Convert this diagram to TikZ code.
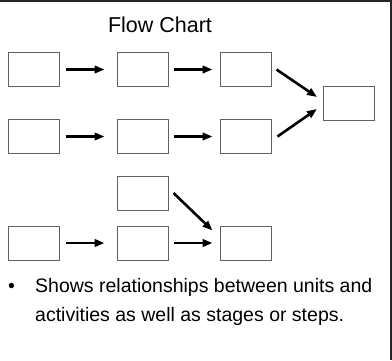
\documentclass[tikz,border=0pt]{standalone}
\usepackage{fontspec}
\setmainfont{Liberation Sans}
\usetikzlibrary{arrows.meta}
\begin{document}
\begin{tikzpicture}[x=1pt,y=-1pt,
  stepbox/.style={draw=black!62,line width=1pt,minimum width=51pt,minimum height=34pt,inner sep=0pt,fill=white},
  arr/.style={line width=2.6pt,-{Triangle[length=10pt,width=7.5pt]}},
  frameline/.style={line width=2pt,black!85}]
\useasboundingbox (0,0) rectangle (392,360);
\fill[white] (0,0) rectangle (392,360);
% slide frame (top and right edges)
\draw[frameline] (0,1) -- (391,1);
\draw[frameline] (391,0) -- (391,360);

% title
\node[anchor=base,font=\fontsize{21.5}{24}\selectfont,inner sep=0pt] (title) at (160,32) {Flow Chart};

% boxes
\node[stepbox] (a1) at (33.5,69.5) {};
\node[stepbox] (a2) at (142.5,69.5) {};
\node[stepbox] (a3) at (245.5,69.5) {};
\node[stepbox] (m)  at (349,103.5) {};
\node[stepbox] (b1) at (33.5,136.5) {};
\node[stepbox] (b2) at (142.5,136.5) {};
\node[stepbox] (b3) at (245.5,136.5) {};
\node[stepbox] (c0) at (142.5,193) {};
\node[stepbox] (c1) at (33.5,243) {};
\node[stepbox] (c2) at (142.5,243) {};
\node[stepbox] (c3) at (245.5,243) {};

% connectors
\draw[arr,shorten <=6pt,shorten >=12pt] (a1.east) -- (a2.west);
\draw[arr,shorten <=5pt,shorten >=7pt] (a2.east) -- (a3.west);
\draw[arr,shorten <=6pt,shorten >=12pt] (b1.east) -- (b2.west);
\draw[arr,shorten <=5pt,shorten >=7pt] (b2.east) -- (b3.west);
\draw[arr,shorten <=6pt,shorten >=12pt] (c1.east) -- (c2.west);
\draw[arr,shorten <=5pt,shorten >=7pt] (c2.east) -- (c3.west);
\draw[arr] ([xshift=5pt]a3.east) -- ([xshift=-6pt,yshift=6.5pt]m.west);
\draw[arr] ([xshift=6pt]b3.east) -- ([xshift=-6pt,yshift=-5.5pt]m.west);
\draw[arr] ([xshift=5pt]c0.east) -- ([xshift=-7pt,yshift=-5pt]c3.north west);

% bullet text
\node[anchor=base west,inner sep=0pt,font=\fontsize{19.5}{23}\selectfont] (bul) at (8,292) {\textbullet};
\node[anchor=base west,inner sep=0pt,font=\fontsize{19.5}{23}\selectfont] (l1) at (35,292) {Shows relationships between units and};
\node[anchor=base west,inner sep=0pt,font=\fontsize{19.5}{23}\selectfont] (l2) at (35,321) {activities as well as stages or steps.};
\end{tikzpicture}
\end{document}
